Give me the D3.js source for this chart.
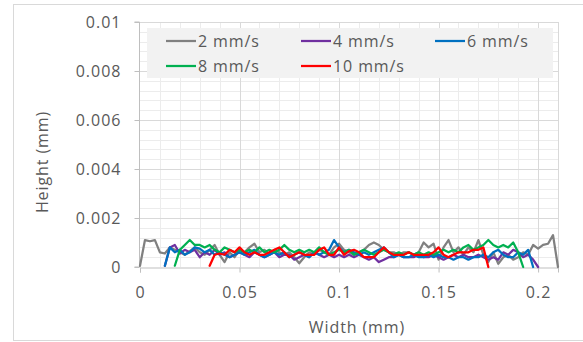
<!DOCTYPE html>
<html>
<head>
<meta charset="utf-8">
<script src="https://cdn.jsdelivr.net/npm/d3@7"></script>
<style>
  html, body { margin: 0; padding: 0; background: #fff; }
  svg { display: block; }
  text { font-family: "Open Sans", sans-serif; fill: #595959; }
</style>
</head>
<body>
<svg id="chart" width="583" height="342"></svg>
<script>
// ---- data ----
const widths = [0,0.0025,0.005,0.0075,0.01,0.0125,0.015,0.0175,0.02,0.0225,0.025,0.0275,0.03,0.0325,0.035,0.0375,0.04,0.0425,0.045,0.0475,0.05,0.0525,0.055,0.0575,0.06,0.0625,0.065,0.0675,0.07,0.0725,0.075,0.0775,0.08,0.0825,0.085,0.0875,0.09,0.0925,0.095,0.0975,0.1,0.1025,0.105,0.1075,0.11,0.1125,0.115,0.1175,0.12,0.1225,0.125,0.1275,0.13,0.1325,0.135,0.1375,0.14,0.1425,0.145,0.1475,0.15,0.1525,0.155,0.1575,0.16,0.1625,0.165,0.1675,0.17,0.1725,0.175,0.1775,0.18,0.1825,0.185,0.1875,0.19,0.1925,0.195,0.1975,0.2,0.2025,0.205,0.2075,0.21];

const s2 = [0.00005,0.0011,0.00105,0.0011,0.0006,0.00055,0.0008,0.0007,0.0006,0.0005,0.00065,0.0008,0.0006,0.0005,0.0007,0.0009,0.0005,0.0002,0.0006,0.0004,0.0007,0.0006,0.0008,0.00095,0.0006,0.0007,0.0005,0.0007,0.0006,0.0005,0.0006,0.0004,0.00015,0.0004,0.0006,0.0005,0.0007,0.0006,0.0005,0.0008,0.00095,0.0007,0.0006,0.0005,0.0006,0.0007,0.0009,0.001,0.0009,0.0007,0.0006,0.0006,0.0005,0.0006,0.0006,0.0005,0.0006,0.001,0.0008,0.00095,0.0003,0.0008,0.0011,0.0006,0.0008,0.0005,0.0008,0.0006,0.0011,0.0005,0.0002,0.0006,0.00013,0.0004,0.0005,0.0003,0.0004,0.0006,0.0005,0.0009,0.00075,0.0009,0.00095,0.0013,0];

const s4 = [null,null,null,null,null,0.00005,0.0008,0.0009,0.00055,0.0007,0.0006,0.0007,0.0004,0.0006,0.0005,0.0007,0.0005,0.0006,0.0004,0.0005,0.0006,0.0005,0.0004,0.0006,0.0005,0.0004,0.0005,0.0006,0.0004,0.0005,0.0005,0.0003,0.0004,0.0005,0.0004,0.0006,0.0005,0.0004,0.0005,0.0004,0.0005,0.0004,0.0005,0.0004,0.0005,0.0004,0.0003,0.0004,0.0002,0.0003,0.0004,0.0004,0.0005,0.0004,0.0004,0.0004,0.0005,0.0004,0.0004,0.0005,0.0004,0.0003,0.0004,0.0005,0.0004,0.0005,0.0004,0.0004,0.0005,0.0004,0.0003,0.0004,0.0003,0.0006,0.0005,0.0007,0.0006,0.0004,0.0005,0.0003,0,null,null,null,null];

const s6 = [null,null,null,null,null,0.00005,0.0008,0.0006,0.0007,0.0005,0.0006,0.0008,0.00075,0.0006,0.0007,0.0005,0.0006,0.0005,0.0004,0.0005,0.0006,0.0005,0.0006,0.0007,0.0005,0.0004,0.0005,0.0006,0.0005,0.0006,0.0004,0.0005,0.0006,0.0005,0.0004,0.0006,0.0005,0.0006,0.0007,0.0011,0.0008,0.0006,0.0007,0.0006,0.0005,0.0006,0.0005,0.0006,0.0007,0.0008,0.0006,0.0004,0.0005,0.0004,0.0004,0.0005,0.0004,0.0004,0.0005,0.0004,0.0005,0.0004,0.0004,0.0003,0.0004,0.0004,0.0003,0.0004,0.0004,0.0005,0.0004,0.0006,0.0007,0.0005,0.0004,0.0004,0.0006,0.0005,0.0007,0,null,null,null,null,null];

const s8 = [null,null,null,null,null,null,null,0.00005,0.0007,0.0009,0.0011,0.0009,0.0009,0.0008,0.0009,0.0007,0.0006,0.0008,0.0007,0.0006,0.0007,0.0006,0.0007,0.0006,0.0008,0.0006,0.0007,0.0006,0.0007,0.0009,0.0007,0.0006,0.0007,0.0006,0.0007,0.0006,0.0008,0.0006,0.0005,0.0006,0.0007,0.0006,0.0007,0.0005,0.0006,0.0007,0.0006,0.0005,0.0006,0.0007,0.0006,0.0005,0.0006,0.0005,0.0006,0.0005,0.0006,0.0005,0.0006,0.0005,0.0006,0.0007,0.0006,0.0007,0.0006,0.0008,0.0009,0.0007,0.0008,0.0009,0.0011,0.0009,0.0008,0.0009,0.0008,0.001,0.0006,0,null,null,null,null,null,null,null];

const s10 = [null,null,null,null,null,null,null,null,null,null,null,null,null,null,0.00005,0.0005,0.00055,0.0005,0.0007,0.0006,0.0008,0.0006,0.0005,0.0006,0.0005,0.0005,0.0006,0.0007,0.0008,0.0006,0.0004,0.0005,0.0006,0.0005,0.0005,0.0005,0.0007,0.0008,0.0005,0.0005,0.0008,0.0005,0.00065,0.0007,0.0006,0.0004,0.0004,0.0004,0.0006,0.0008,0.0006,0.0005,0.0005,0.0005,0.0006,0.0005,0.0005,0.0005,0.0005,0.0006,0.0008,0.0005,0.0004,0.0005,0.0006,0.0006,0.0006,0.0007,0.0007,0.0008,0,null,null,null,null,null,null,null,null,null,null,null,null,null,null];

const seriesNames = ["2 mm/s", "4 mm/s", "6 mm/s", "8 mm/s", "10 mm/s"];
const seriesValues = [s2, s4, s6, s8, s10];
const seriesColors = ["#808080", "#7030a0", "#0070c0", "#00b050", "#ff0000"];

const xTicks = [0, 0.05, 0.1, 0.15, 0.2];
const xTickLabels = ["0", "0.05", "0.1", "0.15", "0.2"];
const yTicks = [0, 0.002, 0.004, 0.006, 0.008, 0.01];
const yTickLabels = ["0", "0.002", "0.004", "0.006", "0.008", "0.01"];
const xMinorTicks = [0.01,0.02,0.03,0.04,0.06,0.07,0.08,0.09,0.11,0.12,0.13,0.14,0.16,0.17,0.18,0.19,0.21];
const yMinorTicks = [0.0004,0.0008,0.0012,0.0016,0.0024,0.0028,0.0032,0.0036,0.0044,0.0048,0.0052,0.0056,0.0064,0.0068,0.0072,0.0076,0.0084,0.0088,0.0092,0.0096];

// ---- layout ----
const svg = d3.select("#chart");
const pL = 140, pR = 558, pT = 22, pB = 267;
const x = d3.scaleLinear().domain([0, 0.21]).range([pL, pR]);
const y = d3.scaleLinear().domain([0, 0.01]).range([pB, pT]);

// chart border
svg.append("rect").attr("x", 13.5).attr("y", 4.5).attr("width", 580).attr("height", 336)
  .attr("fill", "#fff").attr("stroke", "#d9d9d9").attr("stroke-width", 1);

// minor grid
const g = svg.append("g");
g.selectAll(".xm").data(xMinorTicks).join("line")
  .attr("x1", d => Math.round(x(d)) + 0.5).attr("x2", d => Math.round(x(d)) + 0.5)
  .attr("y1", pT).attr("y2", pB).attr("stroke", "#ececec").attr("stroke-width", 1);
g.selectAll(".ym").data(yMinorTicks).join("line")
  .attr("y1", d => Math.round(y(d)) + 0.5).attr("y2", d => Math.round(y(d)) + 0.5)
  .attr("x1", pL).attr("x2", pR).attr("stroke", "#ececec").attr("stroke-width", 1);
// major grid
g.selectAll(".xM").data(xTicks.slice(1)).join("line")
  .attr("x1", d => Math.round(x(d)) + 0.5).attr("x2", d => Math.round(x(d)) + 0.5)
  .attr("y1", pT).attr("y2", pB).attr("stroke", "#d9d9d9").attr("stroke-width", 1);
g.selectAll(".yM").data(yTicks.slice(1)).join("line")
  .attr("y1", d => Math.round(y(d)) + 0.5).attr("y2", d => Math.round(y(d)) + 0.5)
  .attr("x1", pL).attr("x2", pR).attr("stroke", "#d9d9d9").attr("stroke-width", 1);
g.append("line").attr("x1", pR + 0.5).attr("x2", pR + 0.5).attr("y1", pT).attr("y2", pB)
  .attr("stroke", "#d9d9d9");

// axes
const xAxis = d3.axisBottom(x).tickValues(xTicks).tickFormat((d, i) => xTickLabels[i]).tickSize(5).tickPadding(14);
const yAxis = d3.axisLeft(y).tickValues(yTicks).tickFormat((d, i) => yTickLabels[i]).tickSize(5).tickPadding(13);
const gx = svg.append("g").attr("transform", `translate(0,${pB + 0.5})`).call(xAxis);
const gy = svg.append("g").attr("transform", `translate(${pL - 0.5},0)`).call(yAxis);
[gx, gy].forEach(a => {
  a.select(".domain").attr("stroke", "#bfbfbf");
  a.selectAll(".tick line").attr("stroke", "#bfbfbf");
  a.selectAll("text").style("font-family", "'Open Sans', sans-serif").style("font-size", "16px")
    .attr("fill", "#595959").style("letter-spacing", "1px");
});
gy.select(".domain").attr("d", `M-5,${pT}H0V${pB}H-5`);

// lines
const line = d3.line()
  .defined(d => d[1] !== null)
  .x(d => x(d[0])).y(d => y(d[1]));
seriesValues.forEach((vals, k) => {
  const pts = widths.map((w, i) => [w, vals[i]]);
  svg.append("path").datum(pts).attr("d", line)
    .attr("fill", "none").attr("stroke", seriesColors[k]).attr("stroke-width", 2.25)
    .attr("stroke-linejoin", "round").attr("stroke-linecap", "round");
});

// legend
svg.append("rect").attr("x", 147).attr("y", 28).attr("width", 406).attr("height", 50).attr("fill", "#f2f2f2");
const legPos = [[166, 41], [301, 41], [435, 41], [166, 66], [301, 66]];
seriesNames.forEach((n, k) => {
  const [lx, ly] = legPos[k];
  svg.append("line").attr("x1", lx).attr("x2", lx + 30).attr("y1", ly).attr("y2", ly)
    .attr("stroke", seriesColors[k]).attr("stroke-width", 2.25);
  svg.append("text").attr("x", lx + 32).attr("y", ly).attr("dy", "0.35em")
    .style("font-size", "16px").style("letter-spacing", "0.9px").text(n);
});

// axis titles
svg.append("text").attr("x", 357).attr("y", 327).attr("dy", "0.35em").attr("text-anchor", "middle")
  .style("font-size", "16px").style("letter-spacing", "0.9px").text("Width (mm)");
svg.append("text").attr("transform", "translate(42,162) rotate(-90)").attr("dy", "0.35em")
  .attr("text-anchor", "middle").style("font-size", "16px").style("letter-spacing", "0.9px").text("Height (mm)");
</script>
</body>
</html>
